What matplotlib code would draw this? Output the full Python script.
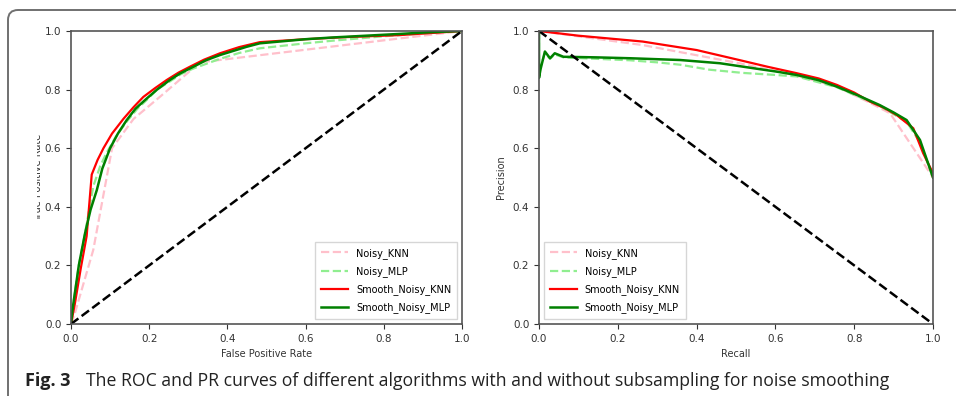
import numpy as np
import matplotlib.pyplot as plt
from matplotlib.patches import FancyBboxPatch
from matplotlib.transforms import Bbox, TransformedBbox

# ROC curves (fpr, tpr)
roc_noisy_knn_fpr = [0.0, 0.01, 0.057, 0.105, 0.16, 0.228, 0.33, 1.0]
roc_noisy_knn_tpr = [0.0, 0.037, 0.253, 0.60, 0.70, 0.776, 0.893, 1.0]

roc_noisy_mlp_fpr = [0.0, 0.005, 0.02, 0.036, 0.057, 0.075, 0.091, 0.115, 0.142, 0.17, 0.194,
                     0.22, 0.253, 0.28, 0.313, 0.381, 0.43, 0.483, 0.6, 0.67, 0.8, 0.9, 1.0]
roc_noisy_mlp_tpr = [0.0, 0.06, 0.2, 0.31, 0.47, 0.54, 0.584, 0.64, 0.69, 0.735, 0.765,
                     0.80, 0.828, 0.852, 0.872, 0.905, 0.925, 0.941, 0.958, 0.967, 0.982, 0.992, 1.0]

roc_smooth_knn_fpr = [0.0, 0.01, 0.025, 0.04, 0.053, 0.068, 0.083, 0.105, 0.134, 0.16, 0.185,
                      0.215, 0.245, 0.275, 0.304, 0.34, 0.381, 0.43, 0.483, 0.6, 0.7, 0.84, 0.92, 1.0]
roc_smooth_knn_tpr = [0.0, 0.07, 0.19, 0.30, 0.51, 0.56, 0.60, 0.65, 0.70, 0.74, 0.775,
                      0.805, 0.833, 0.858, 0.878, 0.902, 0.924, 0.945, 0.962, 0.972, 0.979, 0.986, 0.993, 1.0]

roc_smooth_mlp_fpr = [0.0, 0.005, 0.02, 0.036, 0.05, 0.066, 0.08, 0.1, 0.12, 0.142, 0.165,
                      0.194, 0.22, 0.253, 0.28, 0.313, 0.345, 0.381, 0.449, 0.483, 0.6, 0.67,
                      0.84, 0.92, 1.0]
roc_smooth_mlp_tpr = [0.0, 0.06, 0.2, 0.31, 0.39, 0.457, 0.53, 0.6, 0.65, 0.695, 0.735,
                      0.77, 0.80, 0.833, 0.856, 0.878, 0.9, 0.918, 0.946, 0.958, 0.972, 0.978,
                      0.99, 0.996, 1.0]

# PR curves (recall, precision)
pr_noisy_knn_rec = [0.0, 0.263, 0.508, 0.654, 0.756, 0.84, 0.891, 1.0]
pr_noisy_knn_prec = [1.0, 0.952, 0.89, 0.848, 0.81, 0.755, 0.719, 0.5]

pr_noisy_mlp_rec = [0.0, 0.0, 0.004, 0.015, 0.028, 0.04, 0.062, 0.146, 0.231, 0.3, 0.358,
                    0.432, 0.517, 0.6, 0.654, 0.756, 0.865, 0.933, 0.967, 1.0]
pr_noisy_mlp_prec = [1.0, 0.85, 0.88, 0.925, 0.905, 0.92, 0.91, 0.905, 0.9, 0.893, 0.885,
                     0.868, 0.857, 0.85, 0.845, 0.808, 0.744, 0.69, 0.62, 0.5]

pr_smooth_knn_rec = [0.0, 0.1, 0.263, 0.4, 0.508, 0.58, 0.654, 0.71, 0.756, 0.8, 0.84, 0.875,
                     0.908, 0.95, 0.975, 0.998, 1.0]
pr_smooth_knn_prec = [1.0, 0.984, 0.964, 0.935, 0.901, 0.878, 0.856, 0.838, 0.816, 0.79,
                      0.759, 0.738, 0.713, 0.668, 0.583, 0.52, 0.5]

pr_smooth_mlp_rec = [0.0, 0.0, 0.004, 0.015, 0.028, 0.04, 0.062, 0.146, 0.231, 0.358,
                     0.459, 0.544, 0.6, 0.654, 0.71, 0.756, 0.81, 0.865, 0.9, 0.933, 0.967, 1.0]
pr_smooth_mlp_prec = [1.0, 0.84, 0.87, 0.93, 0.907, 0.924, 0.912, 0.91, 0.907, 0.901,
                      0.89, 0.873, 0.862, 0.85, 0.832, 0.81, 0.78, 0.747, 0.722, 0.696, 0.628, 0.5]

labels = ['Noisy_KNN', 'Noisy_MLP', 'Smooth_Noisy_KNN', 'Smooth_Noisy_MLP']
ticks = [0.0, 0.2, 0.4, 0.6, 0.8, 1.0]

fig = plt.figure(figsize=(9.56, 3.96), dpi=100)
W, H = 956, 396

# rounded frame around the figure (inches, runs off the right and bottom edges)
frame = FancyBboxPatch((0.08, -1.0), 10.0, 4.86,
                       boxstyle='round,pad=0,rounding_size=0.1',
                       transform=fig.dpi_scale_trans, fill=False,
                       edgecolor='#707070', linewidth=1.4)
fig.patches.append(frame)

ax1 = fig.add_axes([71 / W, 1 - 324 / H, (462 - 71) / W, (324 - 31) / H])
ax2 = fig.add_axes([539 / W, 1 - 324 / H, (933 - 539) / W, (324 - 31) / H])

ax1.plot(roc_noisy_knn_fpr, roc_noisy_knn_tpr, color='pink', linestyle='--', lw=1.6, label=labels[0])
ax1.plot(roc_noisy_mlp_fpr, roc_noisy_mlp_tpr, color='lightgreen', linestyle='--', lw=1.6, label=labels[1])
ax1.plot(roc_smooth_knn_fpr, roc_smooth_knn_tpr, color='red', lw=1.6, label=labels[2])
ax1.plot(roc_smooth_mlp_fpr, roc_smooth_mlp_tpr, color='green', lw=1.8, label=labels[3])
ax1.plot([0, 1], [0, 1], color='black', linestyle='--', lw=1.8)

ax2.plot(pr_noisy_knn_rec, pr_noisy_knn_prec, color='pink', linestyle='--', lw=1.6, label=labels[0])
ax2.plot(pr_noisy_mlp_rec, pr_noisy_mlp_prec, color='lightgreen', linestyle='--', lw=1.6, label=labels[1])
ax2.plot(pr_smooth_knn_rec, pr_smooth_knn_prec, color='red', lw=1.6, label=labels[2])
ax2.plot(pr_smooth_mlp_rec, pr_smooth_mlp_prec, color='green', lw=1.8, label=labels[3])
ax2.plot([0, 1], [1, 0], color='black', linestyle='--', lw=1.8)

for ax in (ax1, ax2):
    ax.set_xlim(0, 1)
    ax.set_ylim(0, 1)
    ax.set_xticks(ticks)
    ax.set_yticks(ticks)
    ax.tick_params(labelsize=7.5, colors='#333333', length=3.5, width=0.8)
    for s in ax.spines.values():
        s.set_color('#555555')
        s.set_linewidth(1.2)

ax1.set_xlabel('False Positive Rate', fontsize=7, color='#333333', labelpad=4)
ax1.set_ylabel('True Positive Rate', fontsize=7, color='#333333', labelpad=1)
ax2.set_xlabel('Recall', fontsize=7, color='#333333', labelpad=4)
ax2.set_ylabel('Precision', fontsize=7, color='#333333', labelpad=5)

# the TPR label is partly cut off in the original
ylab = ax1.yaxis.label
ylab.set_clip_on(True)
ylab.set_clip_box(TransformedBbox(Bbox([[37 / W, 0], [60 / W, 1]]), fig.transFigure))

leg_kw = dict(fontsize=7, frameon=True, fancybox=False, edgecolor='#cccccc',
              handlelength=2.8, labelspacing=0.75, borderpad=0.6)
ax1.legend(loc='lower right', **leg_kw)
ax2.legend(loc='lower left', **leg_kw)

fig.text(25 / W, 1 - 386 / H, 'Fig. 3', fontsize=13, fontweight='bold',
         family='Open Sans', color='#222222')
fig.text(86 / W, 1 - 386 / H,
         'The ROC and PR curves of different algorithms with and without subsampling for noise smoothing',
         fontsize=12.7, family='Open Sans', color='#222222')

fig.savefig('out.png', dpi=100)
